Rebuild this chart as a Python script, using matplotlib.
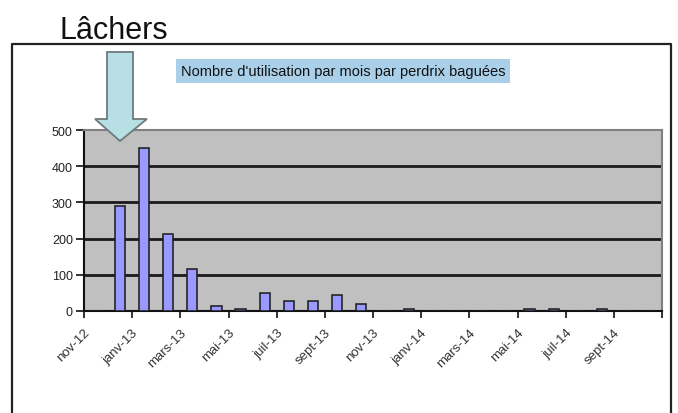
import matplotlib
matplotlib.use("Agg")
import matplotlib.pyplot as plt
from matplotlib.patches import Polygon
from matplotlib.lines import Line2D
import numpy as np

months = ["nov-12", "déc-12", "janv-13", "févr-13", "mars-13", "avr-13", "mai-13", "juin-13",
          "juil-13", "août-13", "sept-13", "oct-13", "nov-13", "déc-13", "janv-14", "févr-14",
          "mars-14", "avr-14", "mai-14", "juin-14", "juil-14", "août-14", "sept-14", "oct-14"]
values = [0, 290, 450, 213, 117, 14, 5, 49, 29, 29, 43, 18, 0, 5, 0, 0, 0, 0, 5, 5, 0, 5, 0, 0]
tick_labels = ["nov-12", "janv-13", "mars-13", "mai-13", "juil-13", "sept-13", "nov-13",
               "janv-14", "mars-14", "mai-14", "juil-14", "sept-14", ""]
yticks = [0, 100, 200, 300, 400, 500]

W, H = 678, 414
fig = plt.figure(figsize=(W / 100, H / 100), dpi=100)
fig.patch.set_facecolor("white")

sans = ["Liberation Sans", "DejaVu Sans"]

def fx(px):
    return px / W

def fy(py):
    return 1 - py / H

# Chart frame (left, top, right)
frame = Line2D([fx(12), fx(12), fx(671), fx(671)], [fy(420), fy(45), fy(45), fy(420)],
               transform=fig.transFigure, color="#222222", lw=1.6, clip_on=False)
fig.add_artist(frame)

ax = fig.add_axes([fx(84), fy(312), fx(662) - fx(84), fy(131) - fy(312)])
ax.set_facecolor("#c0c0c0")
x = np.arange(len(months))
ax.bar(x, values, width=0.42, color="#9999ff", edgecolor="#1a1a1a", linewidth=1.1, zorder=3)
ax.set_xlim(-0.5, len(months) - 0.5)
ax.set_ylim(0, 500)
for v in yticks[1:-1]:
    ax.axhline(v, color="#1a1a1a", lw=2.0, zorder=2)

ax.set_yticks(yticks)
ax.set_yticklabels([str(v) for v in yticks], fontfamily=sans, fontsize=9, color="#222222")
tick_pos = np.arange(-0.5, len(months), 2)
ax.set_xticks(tick_pos)
ax.set_xticklabels(tick_labels, rotation=45, ha="right", rotation_mode="anchor",
                   fontfamily=sans, fontsize=9.5, color="#333333")
ax.tick_params(axis="x", direction="out", length=5, width=1.2, color="#111111", pad=6)
ax.tick_params(axis="y", direction="out", length=6, width=1.2, color="#111111", pad=2)

for side in ["top", "right"]:
    ax.spines[side].set_color("#808080")
    ax.spines[side].set_linewidth(1.5)
ax.spines["left"].set_color("#111111")
ax.spines["left"].set_linewidth(1.5)
ax.spines["bottom"].set_color("#111111")
ax.spines["bottom"].set_linewidth(1.5)

# Big title
fig.text(fx(59), fy(39), "Lâchers", fontfamily=sans, fontsize=22, color="#111111",
         ha="left", va="baseline")

# Chart title with highlight
fig.text(fx(343), fy(72), "Nombre d'utilisation par mois par perdrix baguées",
         fontfamily=sans, fontsize=10.5, color="#111111", ha="center", va="center",
         bbox=dict(boxstyle="square,pad=0.35", facecolor="#a9cfe9", edgecolor="none"))

# Arrow "Lâchers"
arrow_px = [(107, 53), (133, 53), (133, 120), (147, 120), (120, 142), (95, 120), (107, 120)]
arrow = Polygon([(fx(a), fy(b)) for a, b in arrow_px], closed=True,
                transform=fig.transFigure, facecolor="#b8e0e4", edgecolor="#6e7a7c",
                lw=1.3, zorder=10)
fig.add_artist(arrow)

fig.savefig("out.png", dpi=100)
